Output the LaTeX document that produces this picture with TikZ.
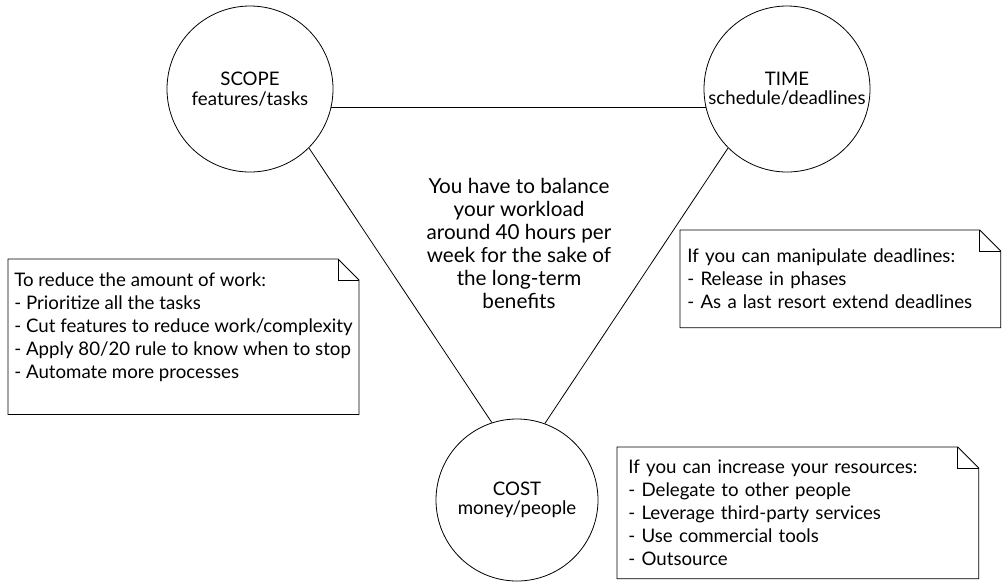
\documentclass[tikz,border=0pt]{standalone}
\usepackage{fontspec}
\setmainfont{Lato}
\usepackage{tikz}
\usetikzlibrary{positioning}

\newcommand{\foldsize}{15.75pt}
% note outline with a folded top right corner
\newcommand{\dogear}[1]{%
  \draw (#1.south west) -- (#1.north west) -- ([xshift=-\foldsize]#1.north east)
    -- ([yshift=-\foldsize]#1.north east) -- (#1.south east) -- cycle;
  \draw ([xshift=-\foldsize]#1.north east) |- ([yshift=-\foldsize]#1.north east);}

\tikzset{
  topic/.style={circle, draw, line width=0.6pt, minimum size=124.5pt, inner sep=0pt,
    align=center, font=\fontsize{14}{14.5}\selectfont},
  note/.style={anchor=north west, align=left, inner xsep=5pt, inner ysep=0pt,
    font=\fontsize{14}{17.25}\selectfont},
}

\begin{document}
\begin{tikzpicture}[x=0.75pt, y=-0.75pt, line width=0.6pt]
  \useasboundingbox (0,0) rectangle (1003,583);

  \node[topic] (scope) at (250,89) {SCOPE\\features/tasks};
  \node[topic] (time) at (787,89) {TIME\\schedule/deadlines};
  \node[topic, minimum size=121.5pt] (cost) at (517,500) {COST\\money/people};

  \draw (scope.-13) -- (time.193);
  \draw (scope.-45) -- (cost.108);
  \draw (time.225) -- (cost.70);

  \node[align=center, font=\fontsize{15.5}{17.25}\selectfont] (balance) at (519,243)
    {You have to balance\\your workload\\around 40 hours per\\week for the sake of\\the long-term\\benefits};

  \node[note, inner xsep=4.5pt, inner ysep=9.75pt] (work) at (8,259)
    {To reduce the amount of work:\\
     - Prioritize all the tasks\\
     - Cut features to reduce work/complexity\\
     - Apply 80/20 rule to know when to stop\\
     - Automate more processes\\
     \mbox{}};
  \dogear{work}

  \node[note, inner xsep=5.25pt, minimum width=240pt, minimum height=72.75pt, text width=229.5pt] (deadlines) at (680,230)
    {If you can manipulate deadlines:\\
     - Release in phases\\
     - As a last resort extend deadlines};
  \dogear{deadlines}

  \node[note, inner xsep=8.25pt, minimum width=270.75pt, minimum height=98.25pt, text width=254.25pt] (resources) at (617,447)
    {If you can increase your resources:\\
     - Delegate to other people\\
     - Leverage third-party services\\
     - Use commercial tools\\
     - Outsource};
  \dogear{resources}
\end{tikzpicture}
\end{document}
